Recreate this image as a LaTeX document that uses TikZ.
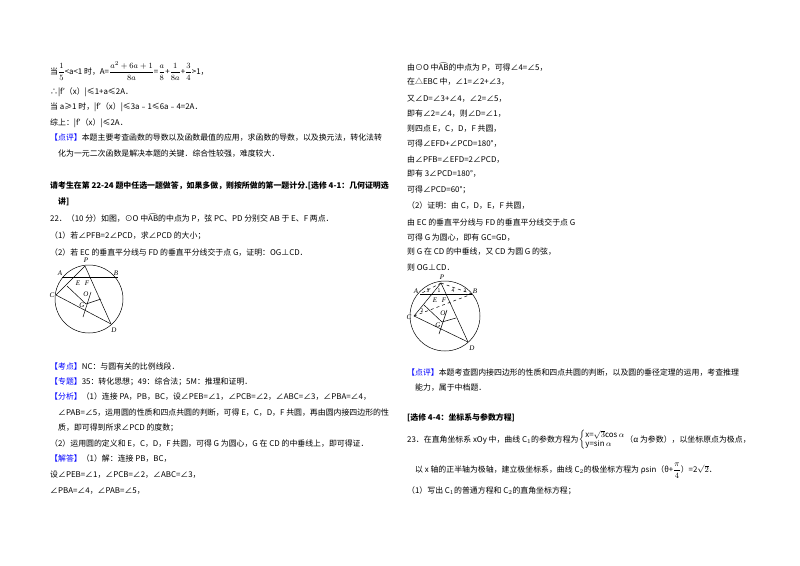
\documentclass[tikz,border=0pt]{standalone}
\usepackage{fontspec}
\setmainfont{Noto Sans CJK SC}
\newfontfamily\labfont{Liberation Serif}
\usepackage{amsmath}
\newcommand\hdtag[1]{\textcolor{blue}{【#1】}}
\begin{document}
\begin{tikzpicture}[x=1pt,y=-1pt,font=\fontsize{7.9}{9}\selectfont,
 t/.style={anchor=west,inner sep=0pt},
 fig/.style={line width=0.5pt},
 lab/.style={font=\fontsize{7}{8}\selectfont\labfont\itshape,inner sep=0pt}]
\useasboundingbox (0,0) rectangle (800,565);
% left column
\node[t] (l1) at (50,71) {当$\displaystyle\frac{1}{5}$<a<1 时，A=$\displaystyle\frac{a^2+6a+1}{8a}$=$\displaystyle\frac{a}{8}$+$\displaystyle\frac{1}{8a}$+$\displaystyle\frac{3}{4}$>1，};
\node[t] (l2) at (50,92) {∴|f′（x）|≤1+a≤2A．};
\node[t] (l3) at (50,107) {当 a≥1 时，|f′（x）|≤3a﹣1≤6a﹣4=2A．};
\node[t] (l4) at (50,123) {综上：|f′（x）|≤2A．};
\node[t] (l5) at (50,138) {\hdtag{点评}本题主要考查函数的导数以及函数最值的应用，求函数的导数，以及换元法，转化法转};
\node[t] (l6) at (58,154) {化为一元二次函数是解决本题的关键．综合性较强，难度较大．};
\node[t] (l7) at (50,186) {\bfseries 请考生在第 22-24 题中任选一题做答，如果多做，则按所做的第一题计分.[选修 4-1：几何证明选};
\node[t] (l8) at (58,202) {\bfseries 讲]};
\node[t] (l9) at (50,218) {22．（10 分）如图，⊙O 中$\widehat{\mathrm{AB}}$的中点为 P，弦 PC、PD 分别交 AB 于 E、F 两点．};
\node[t] (l10) at (50,236) {（1）若∠PFB=2∠PCD，求∠PCD 的大小；};
\node[t] (l11) at (50,253) {（2）若 EC 的垂直平分线与 FD 的垂直平分线交于点 G，证明：OG⊥CD．};
\node[t] (l12) at (50,366) {\hdtag{考点}NC：与圆有关的比例线段．};
\node[t] (l13) at (50,382) {\hdtag{专题}35：转化思想；49：综合法；5M：推理和证明．};
\node[t] (l14a) at (50,397) {\hdtag{分析}（1）连接 PA，PB，BC，设∠PEB=∠1，∠PCB=∠2，∠ABC=∠3，∠PBA=∠4，};
\node[t] (l14b) at (58,413) {∠PAB=∠5，运用圆的性质和四点共圆的判断，可得 E，C，D，F 共圆，再由圆内接四边形的性};
\node[t] (l14c) at (58,428) {质，即可得到所求∠PCD 的度数；};
\node[t] (l15) at (50,444) {（2）运用圆的定义和 E，C，D，F 共圆，可得 G 为圆心，G 在 CD 的中垂线上，即可得证．};
\node[t] (l16) at (50,459) {\hdtag{解答}（1）解：连接 PB，BC，};
\node[t] (l17) at (50,475) {设∠PEB=∠1，∠PCB=∠2，∠ABC=∠3，};
\node[t] (l18) at (50,491) {∠PBA=∠4，∠PAB=∠5，};
% right column
\node[t] (r1) at (407,67) {由⊙O 中$\widehat{\mathrm{AB}}$的中点为 P，可得∠4=∠5，};
\node[t] (r2) at (407,82) {在△EBC 中，∠1=∠2+∠3，};
\node[t] (r3) at (407,99) {又∠D=∠3+∠4，∠2=∠5，};
\node[t] (r4) at (407,114) {即有∠2=∠4，则∠D=∠1，};
\node[t] (r5) at (407,129) {则四点 E，C，D，F 共圆，};
\node[t] (r6) at (407,144) {可得∠EFD+∠PCD=180°，};
\node[t] (r7) at (407,160) {由∠PFB=∠EFD=2∠PCD，};
\node[t] (r8) at (407,174) {即有 3∠PCD=180°，};
\node[t] (r9) at (407,190) {可得∠PCD=60°；};
\node[t] (r10) at (407,206) {（2）证明：由 C，D，E，F 共圆，};
\node[t] (r11) at (407,222) {由 EC 的垂直平分线与 FD 的垂直平分线交于点 G};
\node[t] (r12) at (407,238) {可得 G 为圆心，即有 GC=GD，};
\node[t] (r13) at (407,252) {则 G 在 CD 的中垂线，又 CD 为圆 G 的弦，};
\node[t] (r14) at (407,268) {则 OG⊥CD．};
\node[t] (r15) at (407,373) {\hdtag{点评}本题考查圆内接四边形的性质和四点共圆的判断，以及圆的垂径定理的运用，考查推理};
\node[t] (r16) at (415,388) {能力，属于中档题．};
\node[t] (r17) at (407,418) {\bfseries [选修 4-4：坐标系与参数方程]};
\node[t] (r18) at (407,440) {23．在直角坐标系 xOy 中，曲线 C$_1$的参数方程为$\left\{\begin{array}{@{}l@{}}\text{x=}\sqrt{3}\text{cos}\,\alpha\\ \text{y=sin}\,\alpha\end{array}\right.$（α 为参数），以坐标原点为极点，};
\node[t] (r19) at (415,471) {以 x 轴的正半轴为极轴，建立极坐标系，曲线 C$_2$的极坐标方程为 ρsin（θ+$\displaystyle\frac{\pi}{4}$）=2$\sqrt{2}$．};
\node[t] (r20) at (407,491) {（1）写出 C$_1$的普通方程和 C$_2$的直角坐标方程；};
% figure 1
\begin{scope}[fig]
\coordinate (O1) at (89,299);
\draw (O1) circle (34);
\coordinate (P1) at (85,266); \coordinate (A1) at (62,277); \coordinate (B1) at (118,277);
\coordinate (C1) at (56,295); \coordinate (D1) at (111,324);
\draw (A1) -- (B1); \draw (P1) -- (C1); \draw (P1) -- (D1); \draw (C1) -- (D1);
\coordinate (G1) at (86,304);
\draw (67,286) -- (G1); \draw (101,299) -- (G1);
\draw (91,292) -- (83,317);
\end{scope}
\node[lab] (pP1) at (86,260) {P}; \node[lab] (pA1) at (60,273) {A}; \node[lab] (pB1) at (116,273) {B};
\node[lab] (pC1) at (52,295) {C}; \node[lab] (pD1) at (114,330) {D};
\node[lab] (pE1) at (78,283) {E}; \node[lab] (pF1) at (87,283) {F};
\node[lab] (pO1) at (86,294) {O}; \node[lab] (pG1) at (82,305) {G};
% figure 2
\begin{scope}[fig]
\coordinate (O2) at (445,316);
\draw (O2) circle (35);
\coordinate (P2) at (441,283); \coordinate (A2) at (420,294); \coordinate (B2) at (472,294);
\coordinate (C2) at (414,316); \coordinate (D2) at (468,342);
\draw (A2) -- (B2); \draw (P2) -- (C2); \draw (P2) -- (D2); \draw (C2) -- (D2);
\draw[dashed] (C2) -- (B2); \draw[dashed] (P2) -- (A2); \draw[dashed] (P2) -- (B2);
\coordinate (G2) at (442,322);
\draw (424,305) -- (G2); \draw (456,318) -- (G2);
\draw (447,310) -- (439,334);
\end{scope}
\node[lab] (pP2) at (442,277) {P}; \node[lab] (pA2) at (416,291) {A}; \node[lab] (pB2) at (475,291) {B};
\node[lab] (pC2) at (409,317) {C}; \node[lab] (pD2) at (472,348) {D};
\node[lab] (pE2) at (435,300) {E}; \node[lab] (pF2) at (444,300) {F};
\node[lab] (pO2) at (443,313) {O}; \node[lab] (pG2) at (438,325) {G};
\node[lab,font=\fontsize{5}{5}\selectfont] (n1) at (439,291) {1};
\node[lab,font=\fontsize{5}{5}\selectfont] (n2) at (422,311) {2};
\node[lab,font=\fontsize{5}{5}\selectfont] (n3) at (465,291) {3};
\node[lab,font=\fontsize{5}{5}\selectfont] (n4) at (453,291) {4};
\node[lab,font=\fontsize{5}{5}\selectfont] (n5) at (428,291) {5};
\end{tikzpicture}
\end{document}
